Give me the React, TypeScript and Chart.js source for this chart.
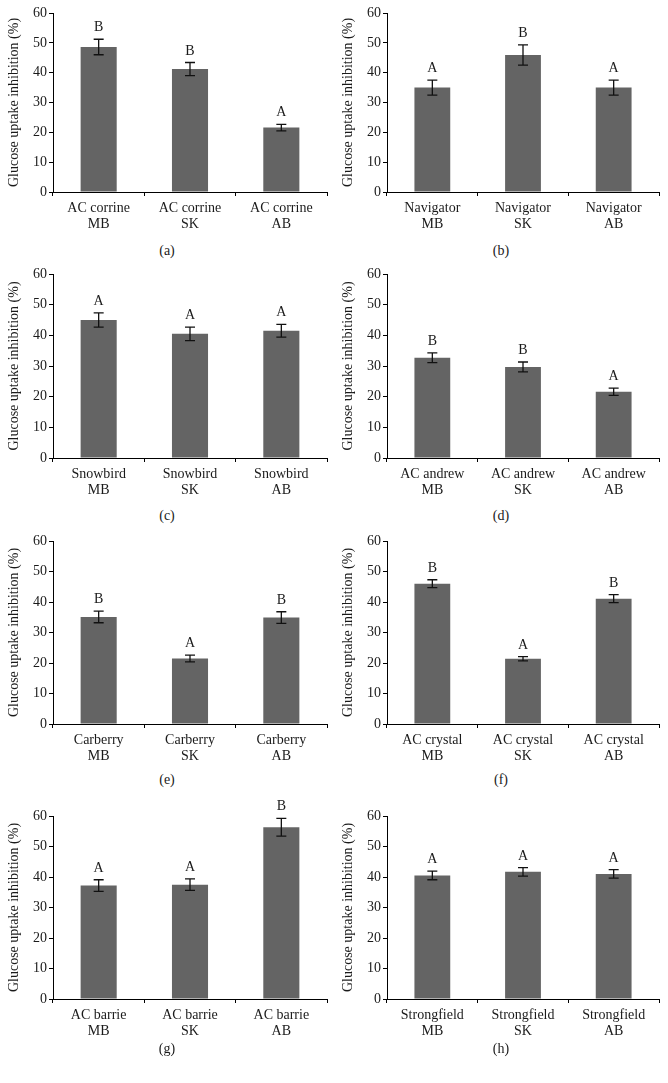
import React, { useEffect, useRef } from "react";
import { Chart, registerables } from "chart.js";

Chart.register(...registerables);

// ---------- data ----------
const provinces = ["MB", "SK", "AB"];
const cultivars = [
  "AC corrine",
  "Navigator",
  "Snowbird",
  "AC andrew",
  "Carberry",
  "AC crystal",
  "AC barrie",
  "Strongfield",
];
const panelTags = ["(a)", "(b)", "(c)", "(d)", "(e)", "(f)", "(g)", "(h)"];
const yTickValues = [0, 10, 20, 30, 40, 50, 60];
const yTitle = "Glucose uptake inhibition (%)";

const corrineMeans = [48.6, 41.2, 21.6];
const corrineErrors = [2.6, 2.2, 1.1];
const corrineLetters = ["B", "B", "A"];

const navigatorMeans = [35.0, 45.9, 35.0];
const navigatorErrors = [2.5, 3.4, 2.5];
const navigatorLetters = ["A", "B", "A"];

const snowbirdMeans = [45.0, 40.5, 41.5];
const snowbirdErrors = [2.3, 2.2, 2.1];
const snowbirdLetters = ["A", "A", "A"];

const andrewMeans = [32.7, 29.7, 21.6];
const andrewErrors = [1.6, 1.6, 1.2];
const andrewLetters = ["B", "B", "A"];

const carberryMeans = [35.1, 21.5, 34.9];
const carberryErrors = [1.9, 1.1, 1.9];
const carberryLetters = ["B", "A", "B"];

const crystalMeans = [46.0, 21.4, 41.1];
const crystalErrors = [1.3, 0.7, 1.3];
const crystalLetters = ["B", "A", "B"];

const barrieMeans = [37.2, 37.5, 56.3];
const barrieErrors = [1.9, 1.9, 2.9];
const barrieLetters = ["A", "A", "B"];

const strongfieldMeans = [40.5, 41.7, 41.0];
const strongfieldErrors = [1.4, 1.4, 1.4];
const strongfieldLetters = ["A", "A", "A"];

const panelMeans = [
  corrineMeans,
  navigatorMeans,
  snowbirdMeans,
  andrewMeans,
  carberryMeans,
  crystalMeans,
  barrieMeans,
  strongfieldMeans,
];
const panelErrors = [
  corrineErrors,
  navigatorErrors,
  snowbirdErrors,
  andrewErrors,
  carberryErrors,
  crystalErrors,
  barrieErrors,
  strongfieldErrors,
];
const panelLetters = [
  corrineLetters,
  navigatorLetters,
  snowbirdLetters,
  andrewLetters,
  carberryLetters,
  crystalLetters,
  barrieLetters,
  strongfieldLetters,
];

// ---------- layout ----------
const rowGeom = [
  { top: 13, bottom: 192, cap: 251 },
  { top: 274, bottom: 458, cap: 516 },
  { top: 541, bottom: 724, cap: 780 },
  { top: 816, bottom: 999, cap: 1049 },
];
const FONT = "'Liberation Serif', 'Times New Roman', serif";
const TEXT = "#1a1a1a";
const BAR = "#646464";

function Panel({ idx }: { idx: number }) {
  const ref = useRef<HTMLCanvasElement>(null);
  const col = idx % 2;
  const row = Math.floor(idx / 2);
  const g = rowGeom[row];
  const canvasTop = Math.max(0, g.top - 18);
  const padTop = g.top - canvasTop;
  const xAxisH = 46;
  const height = g.bottom - canvasTop + xAxisH;
  const padRight = col === 0 ? 7 : 9;

  useEffect(() => {
    const m = panelMeans[idx];
    const e = panelErrors[idx];
    const L = panelLetters[idx];
    const errPlugin = {
      id: "errbars" + idx,
      afterDatasetsDraw(chart: any) {
        const ctx = chart.ctx;
        const ys = chart.scales.y;
        const meta = chart.getDatasetMeta(0);
        ctx.save();
        meta.data.forEach((bar: any, i: number) => {
          const x = bar.x;
          const yHi = ys.getPixelForValue(m[i] + e[i]);
          const yLo = ys.getPixelForValue(m[i] - e[i]);
          ctx.strokeStyle = "#111";
          ctx.lineWidth = 1.3;
          ctx.beginPath();
          ctx.moveTo(x, yHi);
          ctx.lineTo(x, yLo);
          ctx.moveTo(x - 5, yHi);
          ctx.lineTo(x + 5, yHi);
          ctx.moveTo(x - 5, yLo);
          ctx.lineTo(x + 5, yLo);
          ctx.stroke();
          ctx.fillStyle = TEXT;
          ctx.font = `14px ${FONT}`;
          ctx.textAlign = "center";
          ctx.textBaseline = "alphabetic";
          ctx.fillText(L[i], x, yHi - 8);
        });
        ctx.restore();
      },
    };
    const font = { family: FONT, size: 14, lineHeight: 1.1 };
    const chart = new Chart(ref.current as HTMLCanvasElement, {
      type: "bar",
      data: {
        labels: provinces.map((p) => [cultivars[idx], p]),
        datasets: [
          {
            data: m,
            backgroundColor: BAR,
            borderWidth: 0,
            categoryPercentage: 1,
            barPercentage: 0.395,
          },
        ],
      },
      options: {
        responsive: false,
        animation: false,
        devicePixelRatio: 1,
        layout: { padding: { top: padTop, right: padRight, left: 0, bottom: 0 } },
        plugins: { legend: { display: false }, tooltip: { enabled: false } },
        scales: {
          x: {
            type: "category",
            z: 1,
            grid: {
              display: true,
              drawOnChartArea: false,
              drawTicks: true,
              tickLength: 4,
              offset: true,
              color: "#000",
            },
            border: { color: "#000", width: 1 },
            ticks: {
              color: TEXT,
              font,
              padding: 5,
              maxRotation: 0,
              autoSkip: false,
            },
            afterFit: (s: any) => {
              s.height = xAxisH;
            },
          },
          y: {
            min: yTickValues[0],
            max: yTickValues[yTickValues.length - 1],
            z: 1,
            ticks: {
              stepSize: yTickValues[1] - yTickValues[0],
              color: TEXT,
              font,
              padding: 2,
            },
            grid: {
              drawOnChartArea: false,
              drawTicks: true,
              tickLength: 4,
              color: "#000",
            },
            border: { color: "#000", width: 1 },
            title: {
              display: true,
              text: yTitle,
              color: TEXT,
              font: { family: FONT, size: 14, lineHeight: 1.1 },
              padding: { top: 7, bottom: 0 },
            },
            afterFit: (s: any) => {
              s.width = 53;
            },
          },
        },
      },
      plugins: [errPlugin],
    } as any);
    return () => chart.destroy();
  }, [idx]);

  return (
    <>
      <canvas
        ref={ref}
        width={334}
        height={height}
        style={{
          position: "absolute",
          left: col * 334,
          top: canvasTop,
          width: 334,
          height,
        }}
      />
      <div
        style={{
          position: "absolute",
          left: col * 334,
          top: g.cap - 9,
          width: 334,
          height: 18,
          lineHeight: "18px",
          textAlign: "center",
          fontFamily: FONT,
          fontSize: 14,
          color: TEXT,
        }}
      >
        {panelTags[idx]}
      </div>
    </>
  );
}

export default function App() {
  return (
    <div
      style={{
        position: "absolute",
        left: 0,
        top: 0,
        width: 668,
        height: 1083,
        background: "#fff",
        overflow: "hidden",
      }}
    >
      {cultivars.map((_, i) => (
        <Panel key={i} idx={i} />
      ))}
    </div>
  );
}
